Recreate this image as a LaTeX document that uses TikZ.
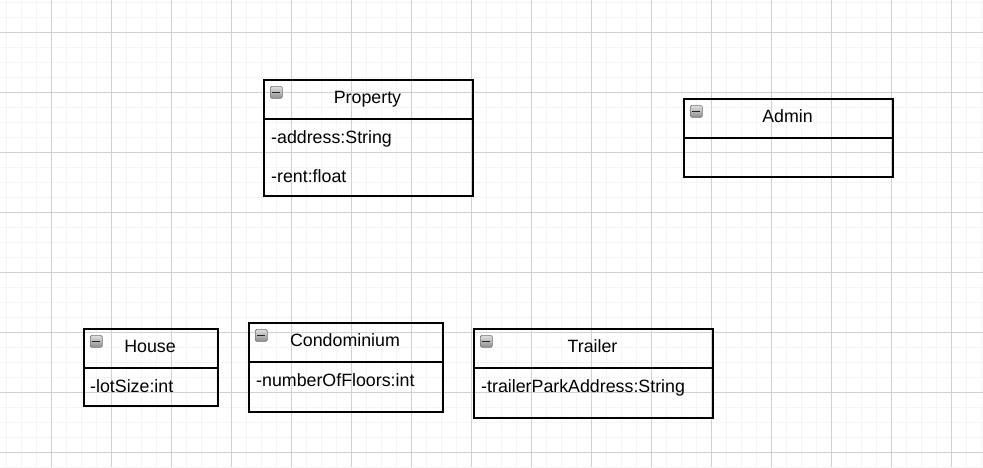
\documentclass[tikz,border=0pt]{standalone}
\usepackage{fontspec}
\setmainfont{Liberation Sans}
\begin{document}
\begin{tikzpicture}[x=1pt,y=-1pt,
  minorline/.style={draw=black!4, line width=0.9pt},
  majorline/.style={draw=black!18, line width=0.9pt},
  hdr/.style={draw, line width=1.6pt, anchor=north west, inner sep=0pt},
  bodybox/.style={draw, line width=1.6pt, anchor=north west, inner sep=0pt},
  attr/.style={anchor=base west, inner sep=0pt, font=\fontsize{17.8}{20}\selectfont},
  ttl/.style={anchor=base, inner sep=0pt, font=\fontsize{17.8}{20}\selectfont},
  icon/.style={anchor=north west, minimum width=12pt, minimum height=12pt, inner sep=0pt,
    rounded corners=1.5pt, draw=black!55, line width=0.7pt, top color=black!12, bottom color=black!45,
    path picture={\draw[line width=1.6pt, black!85] ([xshift=-4pt]path picture bounding box.center) -- ([xshift=4pt]path picture bounding box.center);}}
]
\useasboundingbox (0,0) rectangle (983,467);
\fill[white] (0,0) rectangle (983,467);
% grid
\foreach \x in {6,21,...,983} \draw[minorline] (\x,0) -- (\x,467);
\foreach \y in {2,17,...,467} \draw[minorline] (0,\y) -- (983,\y);
\foreach \x in {51,111,...,983} \draw[majorline] (\x,0) -- (\x,467);
\foreach \y in {32,92,...,467} \draw[majorline] (0,\y) -- (983,\y);

% Property
\node[hdr, minimum width=209pt, minimum height=39pt] (propH) at (263,79) {};
\node[bodybox, minimum width=209pt, minimum height=77pt] (propB) at (263,118) {};
\node[ttl] (propT) at (367.5,103) {Property};
\node[icon] (propI) at (270,86) {};
\node[attr] (propA1) at (271,143.5) {-address:String};
\node[attr] (propA2) at (271,182.5) {-rent:float};

% Admin
\node[hdr, minimum width=209pt, minimum height=39pt] (admH) at (683,98) {};
\node[bodybox, minimum width=209pt, minimum height=39pt] (admB) at (683,137) {};
\node[ttl] (admT) at (787.5,122) {Admin};
\node[icon] (admI) at (690,105) {};

% House
\node[hdr, minimum width=134pt, minimum height=39pt] (houH) at (83,328) {};
\node[bodybox, minimum width=134pt, minimum height=38pt] (houB) at (83,367) {};
\node[ttl] (houT) at (150,352) {House};
\node[icon] (houI) at (90,335) {};
\node[attr] (houA1) at (90,392.5) {-lotSize:int};

% Condominium
\node[hdr, minimum width=194pt, minimum height=39pt] (conH) at (248,322) {};
\node[bodybox, minimum width=194pt, minimum height=50pt] (conB) at (248,361) {};
\node[ttl] (conT) at (345,346) {Condominium};
\node[icon] (conI) at (255,329) {};
\node[attr] (conA1) at (256,386.5) {-numberOfFloors:int};

% Trailer
\node[hdr, minimum width=239pt, minimum height=39pt] (traH) at (473,328) {};
\node[bodybox, minimum width=239pt, minimum height=50pt] (traB) at (473,367) {};
\node[ttl] (traT) at (592.5,352) {Trailer};
\node[icon] (traI) at (480,335) {};
\node[attr] (traA1) at (481,392.5) {-trailerParkAddress:String};
\end{tikzpicture}
\end{document}
